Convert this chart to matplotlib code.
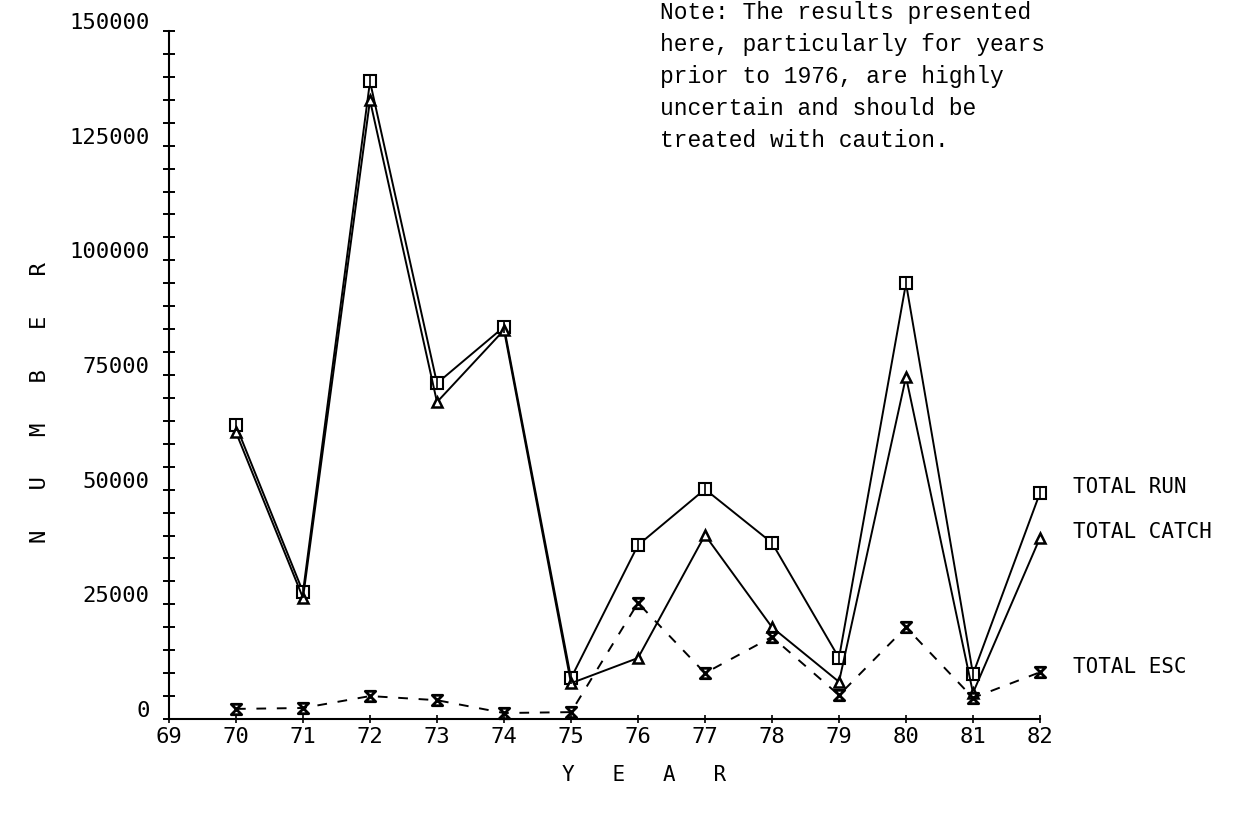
import matplotlib
matplotlib.use("Agg")
import matplotlib.pyplot as plt
import matplotlib.transforms as mtransforms
from matplotlib.path import Path

# yearly totals, 1970-1982
years = [70, 71, 72, 73, 74, 75, 76, 77, 78, 79, 80, 81, 82]
total_run = [64000, 27700, 139000, 73200, 85500, 8900, 37900, 50100, 38400, 13300, 95000, 9800, 49300]
total_catch = [62500, 26400, 134900, 69100, 84800, 7800, 13300, 40100, 20000, 8100, 74600, 5700, 39500]
total_esc = [2200, 2400, 5000, 4100, 1300, 1500, 25300, 10000, 17900, 5200, 20000, 4600, 10200]

year_ticks = list(range(69, 83))
number_ticks = [0, 25000, 50000, 75000, 100000, 125000, 150000]
minor_ticks = list(range(0, 150001, 5000))

note = ("Note: The results presented\n"
        "here, particularly for years\n"
        "prior to 1976, are highly\n"
        "uncertain and should be\n"
        "treated with caution.")

PLOT_FONT = "DejaVu Sans Mono"

# hourglass symbol for escapement
hourglass = Path([(-1, 1), (1, 1), (-1, -1), (1, -1), (-1, 1)],
                 [Path.MOVETO, Path.LINETO, Path.LINETO, Path.LINETO, Path.CLOSEPOLY])


def main():
    fig = plt.figure(figsize=(12.51, 8.25), dpi=100)
    ax = fig.add_axes([169 / 1251, 1 - 719 / 825, (1040 - 169) / 1251, (719 - 31) / 825])

    ax.plot(years, total_run, color="black", lw=1.4, marker="s", ms=8.5,
            mfc="white", mec="black", mew=1.5, clip_on=False, zorder=3)
    ax.plot(years, total_run, ls="none", marker="|", ms=8.5, mec="black",
            mew=1.2, clip_on=False, zorder=4)
    ax.plot(years, total_catch, color="black", lw=1.4, marker="^", ms=7.5,
            mfc="white", mec="black", mew=1.8, clip_on=False, zorder=3)
    ax.plot(years, total_esc, color="black", lw=1.4, ls=(0, (5, 5.5)),
            marker=hourglass, ms=7.5, mfc="none", mec="black", mew=2.0,
            clip_on=False, zorder=3)

    for label, series in [("TOTAL RUN", total_run), ("TOTAL CATCH", total_catch),
                          ("TOTAL ESC", total_esc)]:
        ax.annotate(label, (years[-1], series[-1]), xytext=(24, 4),
                    textcoords="offset points", va="center", ha="left",
                    fontsize=15, family=PLOT_FONT, annotation_clip=False)

    ax.set_xlim(69, 82)
    ax.set_ylim(0, 150000)
    ax.set_xticks(year_ticks, [str(y) for y in year_ticks])
    ax.set_yticks(number_ticks, [str(n) for n in number_ticks])
    ax.set_yticks(minor_ticks, minor=True)

    for side in ("top", "right"):
        ax.spines[side].set_visible(False)
    for side in ("left", "bottom"):
        ax.spines[side].set_linewidth(1.5)

    ax.tick_params(axis="y", which="both", direction="inout", length=8, width=1.4)
    ax.tick_params(axis="y", which="major", pad=10)
    ax.tick_params(axis="x", direction="inout", length=6, width=1.2, pad=3)
    for lbl in ax.get_xticklabels() + ax.get_yticklabels():
        lbl.set_family(PLOT_FONT)
        lbl.set_fontsize(16)

    # plotter put the number labels a little above their ticks
    shift = mtransforms.ScaledTranslation(0, 0.10, fig.dpi_scale_trans)
    for lbl in ax.get_yticklabels():
        lbl.set_transform(lbl.get_transform() + shift)

    fig.text(40 / 1251, 1 - 403 / 825, "N   U   M   B   E   R", rotation=90,
             ha="center", va="center", fontsize=16, family=PLOT_FONT)
    fig.text(644 / 1251, 1 - 775 / 825, "Y   E   A   R",
             ha="center", va="center", fontsize=15, family=PLOT_FONT)

    fig.text(660 / 1251, 1 - 1 / 825, note, ha="left", va="top",
             fontsize=16.5, family="Liberation Mono", linespacing=1.5)

    fig.savefig("out.png", dpi=100, facecolor="white")


if __name__ == "__main__":
    main()
